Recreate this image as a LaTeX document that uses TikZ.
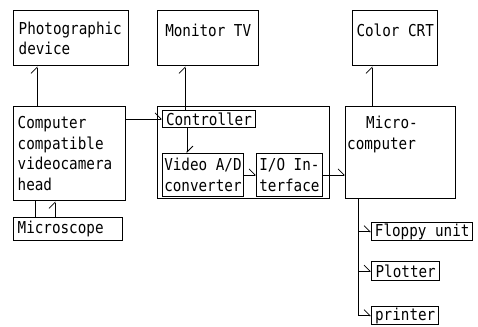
\documentclass[tikz,border=0pt]{standalone}
\usepackage{fontspec}
\setmonofont{DejaVu Sans Mono}[FakeStretch=0.87]
\usetikzlibrary{arrows.meta}

\tikzset{
  box/.style={draw, line width=1.4pt, rectangle, anchor=north west, inner sep=0pt,
    font=\ttfamily\fontsize{16.4}{20.5}\selectfont, align=left},
  inbox/.style={box, line width=0.9pt},
  txt/.style={inner sep=0pt, anchor=north west, align=left,
    font=\ttfamily\fontsize{16.4}{20.5}\selectfont},
  arr/.style={line width=0.8pt, -{Straight Barb[harpoon,length=6pt,width=12pt,line width=0.8pt]}},
  ln/.style={line width=0.8pt}
}

\begin{document}
\begin{tikzpicture}[x=1pt,y=-1pt]
  \useasboundingbox (0,0) rectangle (478,326);
  % top row
  \node[box, minimum width=115pt, minimum height=55pt, text width=105pt] (photo) at (13,10) {Photographic\\device};
  \node[box, minimum width=101pt, minimum height=55pt, text depth=16pt] (monitor) at (157,10) {Monitor TV};
  \node[box, minimum width=85pt, minimum height=55pt, text depth=16pt] (crt) at (352,10) {Color CRT};
  % middle row
  \node[box, minimum width=112pt, minimum height=94pt, text width=104pt] (cam) at (13,106) {Computer\\compatible\\videocamera\\head};
  \node[box, minimum width=172pt, minimum height=92pt] (frame) at (157,106) {};
  \node[inbox, minimum width=93pt, minimum height=17pt] (ctrl) at (162,110) {Controller};
  \node[inbox, minimum width=81pt, minimum height=43pt] (vad) at (162,153) {Video A/D\\converter};
  \node[inbox, minimum width=66pt, minimum height=43pt] (io) at (256,153) {I/O In-\\terface};
  \node[box, minimum width=110pt, minimum height=92pt] (micro) at (345,106) {};
  \node[txt] (microtxt) at ([shift={(2pt,-10pt)}]micro.north west) {\hspace*{19pt}Micro-\\computer};
  % bottom
  \node[box, minimum width=109pt, minimum height=23pt, text width=101pt] (mic) at (13,217) {Microscope};
  \node[box, minimum width=101pt, minimum height=18pt] (floppy) at (371,222) {Floppy unit};
  \node[box, minimum width=68pt, minimum height=19pt] (plotter) at (371,261) {Plotter};
  \node[box, minimum width=67pt, minimum height=18pt] (printer) at (371,306) {printer};
  \coordinate (bus) at ([xshift=13pt]micro.south west);

  % connectors
  \draw[arr] ([xshift=24pt]cam.north west) -- ([xshift=24pt]photo.south west);
  \draw[ln] ([xshift=22pt]mic.north west) -- ([xshift=22pt]cam.south west);
  \draw[arr] ([xshift=42pt]mic.north west) -- ([xshift=42pt]cam.south west);
  \draw[arr] (cam.east |- ctrl) -- (ctrl.west);
  \draw[arr] ([xshift=23pt]ctrl.north west) -- ([xshift=23pt]ctrl.north west |- monitor.south);
  \draw[arr] ([xshift=25pt]ctrl.south west) -- ([xshift=25pt]ctrl.south west |- vad.north);
  \draw[arr] (vad.east) -- (vad.east -| io.west);
  \draw[arr] (io.east) -- (io.east -| micro.west);
  \draw[arr] ([xshift=27pt]micro.north west) -- ([xshift=27pt]micro.north west |- crt.south);
  \draw[ln] (bus) -- (bus |- printer.west);
  \draw[arr] (bus |- floppy.west) -- (floppy.west);
  \draw[arr] (bus |- plotter.west) -- (plotter.west);
  \draw[arr] (bus |- printer.west) -- (printer.west);
\end{tikzpicture}
\end{document}
